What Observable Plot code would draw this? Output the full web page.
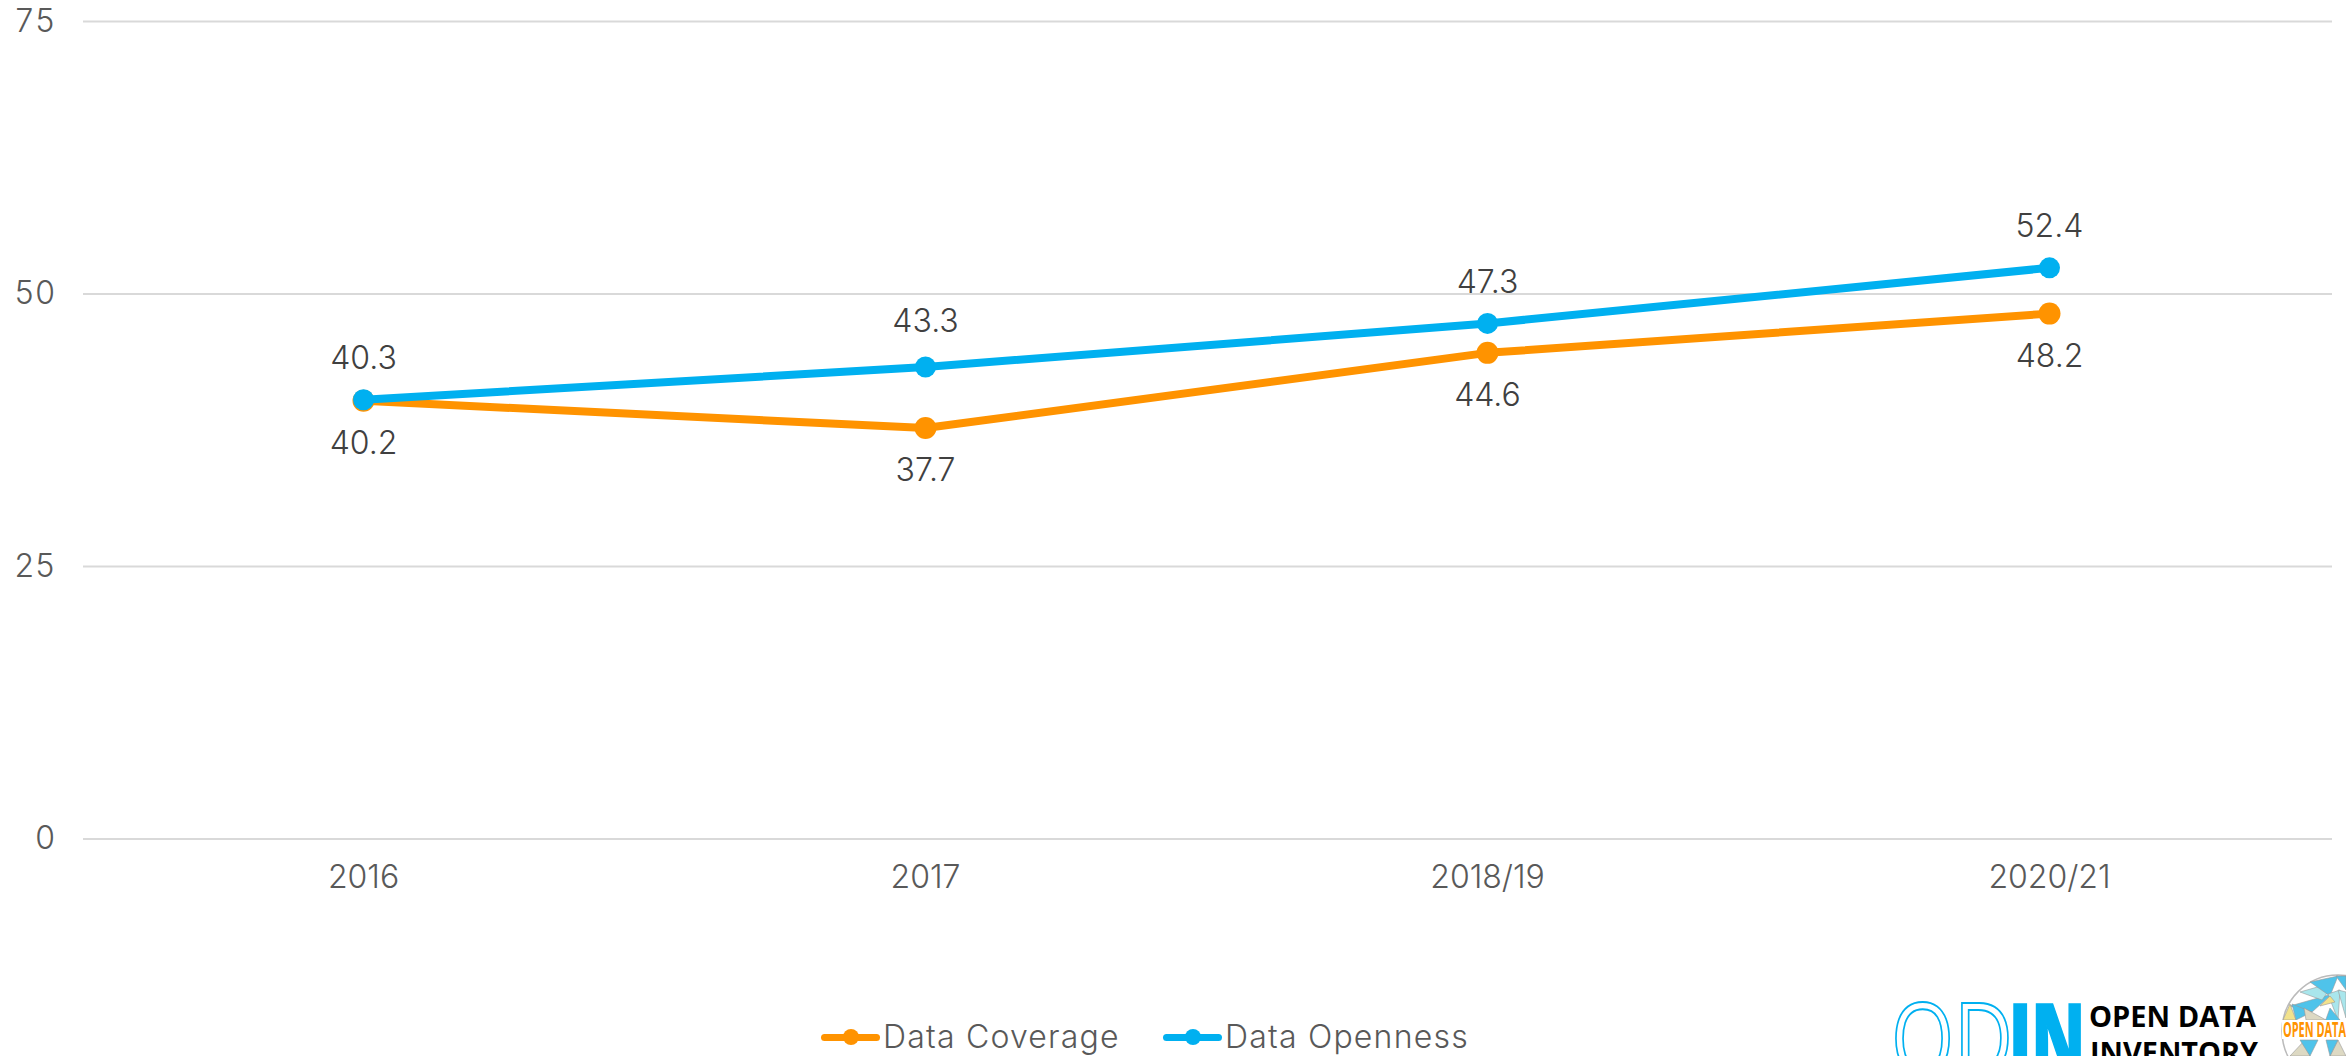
<!DOCTYPE html>
<html><head><meta charset="utf-8">
<script src="https://cdn.jsdelivr.net/npm/d3@7"></script>
<script src="https://cdn.jsdelivr.net/npm/@observablehq/plot@0.6"></script>
<style>
html,body{margin:0;padding:0;background:#fff;overflow:hidden;width:2346px;height:1056px}
#wrap{position:relative;width:2346px;height:1056px;overflow:hidden}
#legend{position:absolute;left:0;top:1005px;height:51px;width:1600px;font:300 32px Inter,sans-serif;color:#595959;letter-spacing:1.2px}
.sw{position:absolute;top:28.5px;width:59px;height:7.5px;border-radius:4px}
.sw i{position:absolute;left:21.5px;top:-4.25px;width:16px;height:16px;border-radius:50%;background:inherit}
.lt{position:absolute;top:19px;line-height:36px;transform:translateY(-5px);white-space:nowrap}
#logo{position:absolute;left:0;top:0;pointer-events:none}
</style></head><body>
<div id="wrap"></div>
<script>
const periods = ["2016","2017","2018/19","2020/21"];
const coverage = [40.2,37.7,44.6,48.2];
const openness = [40.3,43.3,47.3,52.4];
const yTicks = [0,25,50,75];
const colCoverage = "#FF9300";
const colOpenness = "#00B0F0";
const font = "Inter, sans-serif";

const cov = periods.map((p,i)=>({p,v:coverage[i]}));
const ope = periods.map((p,i)=>({p,v:openness[i]}));
const fs = 32;

const chart = Plot.plot({
  width:2346, height:1005,
  marginLeft:81.5, marginRight:15.5, marginTop:21, marginBottom:166.5,
  style:{background:"#fff",fontFamily:font},
  x:{type:"point",domain:periods,padding:0.5},
  y:{domain:[0,75]},
  marks:[
    Plot.ruleY(yTicks,{stroke:"#d9d9d9",strokeWidth:2,insetLeft:1.5,insetRight:-1.5}),
    Plot.axisY({ticks:yTicks,tickSize:0,tickPadding:26.5,label:null,fontSize:fs,fontWeight:300,fill:"#595959"}),
    Plot.axisX({tickSize:0,tickPadding:26,label:null,fontSize:fs,fontWeight:300,fill:"#595959"}),
    Plot.line(cov,{x:"p",y:"v",stroke:colCoverage,strokeWidth:8}),
    Plot.dot(cov,{x:"p",y:"v",r:11,fill:colCoverage}),
    Plot.line(ope,{x:"p",y:"v",stroke:colOpenness,strokeWidth:8}),
    Plot.dot(ope,{x:"p",y:"v",r:10.5,fill:colOpenness}),
    Plot.text(cov,{x:"p",y:"v",text:d=>d.v.toFixed(1),dy:43,fontSize:fs,fontWeight:300,fill:"#404040"}),
    Plot.text(ope,{filter:d=>d.p!=="2017",x:"p",y:"v",text:d=>d.v.toFixed(1),dy:-41,fontSize:fs,fontWeight:300,fill:"#404040"}),
    Plot.text(ope,{filter:d=>d.p==="2017",x:"p",y:"v",text:d=>d.v.toFixed(1),dy:-45,fontSize:fs,fontWeight:300,fill:"#404040"})
  ]
});
const wrap = document.getElementById("wrap");
wrap.appendChild(chart);

const legend = document.createElement("div");
legend.id="legend";
legend.innerHTML = `
<div class="sw" style="left:821px;background:${colCoverage}"><i></i></div><div class="lt" style="left:883px">Data Coverage</div>
<div class="sw" style="left:1163px;background:${colOpenness}"><i></i></div><div class="lt" style="left:1225px">Data Openness</div>`;
wrap.appendChild(legend);

const tri = [
 ["#4fc3ea","2290,1006 2332,994 2312,1012"],["#a9e6ec","2300,992 2335,982 2322,1000"],
 ["#4fc3ea","2310,982 2338,976 2330,996"],["#f2e28c","2283,1020 2296,1020 2290,1004"],
 ["#4fc3ea","2292,1004 2312,1012 2296,1020"],["#ddd9c3","2306,1020 2326,1020 2304,1008"],
 ["#a9e6ec","2328,994 2340,990 2338,1020"],["#f2e28c","2320,1006 2335,1002 2330,996"],
 ["#4fc3ea","2325,1022 2340,1020 2330,1008"],["#4fc3ea","2336,976 2346,976 2346,990"],
 ["#a9e6ec","2338,990 2346,992 2346,1018"],
 ["#ddd9c3","2290,1056 2305,1040 2310,1056"],["#4fc3ea","2300,1040 2318,1040 2310,1056"],
 ["#ddd9c3","2330,1056 2338,1040 2346,1056"],["#4fc3ea","2326,1040 2338,1040 2330,1056"]
];
const logo = `<svg id="logo" width="2346" height="1056" xmlns="http://www.w3.org/2000/svg">
<g font-family="'Open Sans',sans-serif">
<text x="1891" y="1074" font-size="98" fill="none" stroke="${colOpenness}" stroke-width="2" textLength="122" lengthAdjust="spacingAndGlyphs">OD</text>
<text x="2009" y="1074" font-size="98" font-weight="800" fill="${colOpenness}" stroke="${colOpenness}" stroke-width="2" textLength="76" lengthAdjust="spacingAndGlyphs">IN</text>
<text x="2089" y="1027" font-size="28" font-weight="700" fill="#000" textLength="167" lengthAdjust="spacingAndGlyphs">OPEN DATA</text>
<text x="2090" y="1063" font-size="28" font-weight="700" fill="#000" textLength="168" lengthAdjust="spacingAndGlyphs">INVENTORY</text>
</g>
<circle cx="2338" cy="1031" r="56" fill="#fff" stroke="#bbb" stroke-width="1.5"/>
${tri.map(t=>`<polygon points="${t[1]}" fill="${t[0]}" stroke="#999" stroke-width=".6"/>`).join("")}
<rect x="2282" y="1020" width="64" height="19" fill="#fff"/>
<text x="2283" y="1037" font-family="'Liberation Sans Narrow','Open Sans',sans-serif" font-size="21" font-weight="700" fill="#FF9300" textLength="63" lengthAdjust="spacingAndGlyphs">OPEN DATA</text>
</svg>`;
wrap.insertAdjacentHTML("beforeend",logo);
</script>
</body></html>
